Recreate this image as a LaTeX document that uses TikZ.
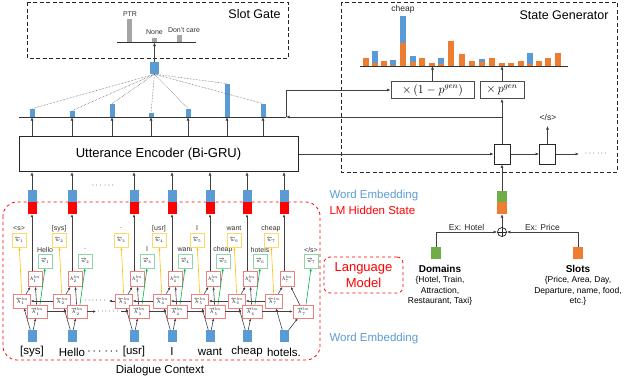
\documentclass[tikz,border=0pt]{standalone}
\usepackage{fontspec}
\setmainfont{Liberation Sans}
\usetikzlibrary{arrows.meta}
\definecolor{wblue}{HTML}{5B9BD5}
\definecolor{gorange}{HTML}{ED7D31}
\definecolor{dgreen}{HTML}{70AD47}
\definecolor{gbar}{HTML}{A5A5A5}
\definecolor{cellred}{HTML}{EE7F7F}
\definecolor{cellyel}{HTML}{FFD966}
\definecolor{cellgrn}{HTML}{8ED6A8}
\definecolor{arryel}{HTML}{FFC000}
\definecolor{arrgrn}{HTML}{00B050}
\newcommand{\cellm}[1]{\scalebox{0.65}{$#1$}}
\begin{document}
\begin{tikzpicture}[
  x=1pt, y=-1pt,
  font=\fontsize{11.5}{13}\selectfont,
  arrow/.style={->, >={Latex[length=3.5pt, width=3pt]}, draw=black!75, line width=0.7pt},
  lmarrow/.style={arrow, >={Latex[length=2.8pt, width=2.5pt]}, line width=0.6pt},
  vec/.style={inner sep=0pt, minimum width=9pt, minimum height=12pt},
  attbar/.style={fill=wblue, inner sep=0pt, minimum width=5pt, anchor=south},
  cell/.style={draw=cellred, fill=white, line width=0.7pt, inner sep=0pt, minimum width=14pt, minimum height=14pt, font=\fontsize{8}{8}\selectfont},
  bwcell/.style={cell, draw=cellyel},
  fwcell/.style={cell, draw=cellgrn},
  celltag/.style={font=\fontsize{7}{7}\selectfont, text=black!80, inner sep=0pt},
  smalltag/.style={font=\fontsize{8.5}{9}\selectfont, text=black!85, inner sep=1pt},
  gate/.style={draw=black!85, dash pattern=on 4pt off 2.5pt, line width=1pt},
  dec/.style={draw=black!85, line width=0.8pt, fill=white, minimum width=16pt, minimum height=20pt, inner sep=0pt},
  mult/.style={draw=black!70, line width=0.7pt, minimum height=17pt, inner sep=0pt, font=\fontsize{12}{12}\selectfont},
  axis/.style={draw=black!80, line width=1pt},
  title/.style={font=\fontsize{12.5}{13}\selectfont}
]
\useasboundingbox (0,0) rectangle (624,378);

\draw[gate] (27,2) rectangle (288,58);
\node[title] at (254.5,14) {Slot Gate};
\draw[axis] (117,42.5) -- (196,42.5);
\fill[gbar] (127,42) rectangle (132,19);
\fill[gbar] (152,42) rectangle (157,38);
\fill[gbar] (177,42) rectangle (182,35);
\node[celltag] at (130,14) {PTR};
\node[celltag] at (154.5,32) {None};
\node[celltag] at (184,30) {Don't care};
\coordinate (sgbase) at (154.5,42.5);
\node[vec, fill=wblue] (gq) at (154.5,68) {};
\draw[arrow] (gq.north) -- (sgbase);

\coordinate (attL) at (19,117);
\coordinate (attR) at (286,117);
\draw[axis] (attL) -- (attR);
\node[attbar, minimum height=8pt] (a1) at (32,117) {};
\node[attbar, minimum height=6pt] (a2) at (72,117) {};
\node[attbar, minimum height=13pt] (a3) at (112,117) {};
\node[attbar, minimum height=4pt] (a4) at (151,117) {};
\node[attbar, minimum height=8pt] (a5) at (188,117) {};
\node[attbar, minimum height=33pt] (a6) at (227,117) {};
\node[attbar, minimum height=13pt] (a7) at (263,117) {};
\foreach \k in {1,...,7}
  \draw[densely dotted, black!70, line width=0.5pt] (gq.south) -- (a\k.north);

\node[draw=black!85, line width=1pt, minimum width=279pt, minimum height=35pt, inner sep=0pt, font=\fontsize{13}{13}\selectfont] (enc) at (158.5,154) {Utterance Encoder (Bi-GRU)};
\foreach \k in {1,...,7}
  \draw[arrow] (a\k.south |- enc.north) -- (a\k.south);

\draw[red, dashed, line width=0.8pt, rounded corners=14pt] (3,202) rectangle (320,360);
\node at (103,186) {\fontsize{8}{8}\selectfont$\cdots$ $\cdots$};
\node at (103,352) {$\cdots$ $\cdots$};
\node at (160,371) {Dialogue Context};

\foreach \i/\c/\w/\bl/\gl/\s in {1/32/{[sys]}/{<s>}/Hello/0, 2/72/Hello/{[sys]}/./0, 3/134/{[usr]}/./I/0, 4/172/I/{[usr]}/want/0, 5/210/want/I/cheap/0, 6/247/cheap/want/hotels/0, 7/284/hotels./cheap/{</s>}/14}{
  \node[vec, fill=red] (lmh\i) at (\c,208) {};
  \node[vec, fill=wblue] (we\i) at (\c,196) {};
  \node[vec, fill=wblue] (emb\i) at (\c,336) {};
  \node at (\c,352) {\w};
  \node[bwcell] (bw\i) at (\c-13,240) {\cellm{\overleftarrow{w}_{\i}}};
  \node[celltag] at (\c-13,228.5) {\bl};
  \node[fwcell] (fw\i) at (\c+13+\s,261) {\cellm{\overrightarrow{w}_{\i}}};
  \node[celltag] at (\c+13+\s,249.5) {\gl};
  \node[cell, minimum height=15pt] (h\i) at (\c+3,279) {\cellm{h^{lm}_{\i}}};
  \node[cell, minimum width=17pt] (bh\i) at (\c-10,301) {\cellm{\overleftarrow{h}^{lm}_{\i}}};
  \node[cell, minimum width=20pt, minimum height=13pt] (fh\i) at (\c+5+\s,311.5) {\cellm{\overrightarrow{h}^{lm}_{\i}}};
  \draw[arrow] (we\i.north) -- (we\i.north |- enc.south);
  \draw[lmarrow] (h\i.north -| lmh\i) -- (lmh\i.south);
  \draw[lmarrow] (emb\i) -- (bh\i);
  \draw[lmarrow] (emb\i) -- (fh\i);
  \draw[lmarrow] (bh\i) -- (h\i);
  \draw[lmarrow] (fh\i) -- (h\i);
  \draw[lmarrow, arryel] (bh\i) -- (bw\i);
  \draw[lmarrow, arrgrn] ([xshift=3pt]fh\i.north) -- (fw\i.south);
}
\foreach \i/\j in {1/2, 3/4, 4/5, 5/6, 6/7}{
  \draw[lmarrow] (fh\i) -- (fh\j);
  \draw[lmarrow] (bh\j) -- (bh\i);
}
\coordinate (fgap) at (96,311.5);
\coordinate (fgapb) at (121,311.5);
\coordinate (bgap) at (109,301);
\draw[lmarrow] (fh2) -- (fgap);
\node at (108,311.5) {\fontsize{8}{8}\selectfont$\cdots\cdots$};
\draw[lmarrow] (fgapb) -- (fh3);
\draw[lmarrow] (bh3) -- (bgap);
\node at (95,301) {\fontsize{8}{8}\selectfont$\cdots\cdots$};

\node[anchor=west, text=wblue] at (326,196) {Word Embedding};
\node[anchor=west, text=red] at (326,210) {LM Hidden State};
\node[anchor=west, text=wblue] at (326,339) {Word Embedding};
\node[draw=red, dashed, rounded corners=6pt, line width=0.8pt, minimum width=79pt, minimum height=36pt, text=red, align=center, font=\fontsize{13}{16}\selectfont] (lmbox) at (363.5,275) {Language\\Model};

\draw[gate] (341,2) rectangle (617,172);
\node[title] at (564,15) {State Generator};
\node[smalltag] at (403,9) {cheap};
\foreach \x/\o/\t in {366/8/8, 375/3/15, 384/5/5, 393/1.5/6, 403/23/50, 413/4/10, 422/8/8, 432/3/3, 441/2/8, 451/25/25, 462/12/12, 472/5/5, 482/4/7, 492/8/8, 502/3/3, 511/3/3, 521/5/5, 530/2/13, 539/5/5, 548/8/8, 558/13/13}{
  \fill[wblue] (\x-3,66) rectangle (\x+3,66-\t);
  \fill[gorange] (\x-3,66) rectangle (\x+3,66-\o);
}
\coordinate (genL) at (360,66);
\coordinate (genR) at (568,66);
\draw[axis] (genL) -- (genR);
\node[mult, minimum width=83pt] (m1) at (432.5,90) {$\times\,(1-p^{gen})$};
\node[mult, minimum width=44pt] (m2) at (502,90) {$\times\,p^{gen}$};
\draw[arrow] (m1.north) -- (m1.north |- genL);
\draw[arrow] (m2.north) -- (m2.north |- genL);

\node[dec] (d1) at (502,154) {};
\node[dec] (d2) at (547.5,154) {};
\coordinate (dout) at (547.5,126);
\coordinate (dend) at (579,154);
\node[smalltag] at (548,117) {</s>};
\node at (596,154) {\fontsize{8}{8}\selectfont$\cdots$ $\cdots$};
\coordinate (br) at (502,117);
\draw[arrow] (enc.east |- d1) -- (d1);
\draw[arrow] (d1) -- (d2);
\draw[arrow] (d2) -- (dend);
\draw[arrow] (d2) -- (dout);
\draw[arrow] (d1) -- (m2);
\draw[arrow] (br) -- (attR);
\draw[arrow] (attR) |- (m1.west);

\node[vec, fill=gorange, minimum width=10pt] (co) at (502,208) {};
\node[vec, fill=dgreen, minimum width=10pt, minimum height=11pt] (cg) at (502,196.5) {};
\draw[arrow] (cg) -- (d1);
\node[circle, draw=black!85, line width=0.7pt, minimum size=9pt, inner sep=0pt] (plus) at (502,232) {};
\draw[black!85, line width=0.7pt] (plus.north) -- (plus.south) (plus.west) -- (plus.east);
\draw[arrow] (plus) -- (co);
\node[vec, fill=dgreen, minimum width=10pt] (dom) at (436,253) {};
\node[vec, fill=gorange, minimum width=10pt] (slt) at (578,253) {};
\draw[arrow] (dom) |- node[pos=0.75, above, smalltag] {Ex: Hotel} (plus);
\draw[arrow] (slt) |- node[pos=0.75, above, smalltag] {Ex: Price} (plus);
\node[font=\fontsize{10}{11}\selectfont\bfseries] at (440,269) {Domains};
\node[align=center, font=\fontsize{8.5}{10.5}\selectfont] at (440,291) {\{Hotel, Train,\\Attraction,\\Restaurant, Taxi\}};
\node[font=\fontsize{10}{11}\selectfont\bfseries] at (578,269) {Slots};
\node[align=center, font=\fontsize{8.5}{10.5}\selectfont] at (578,291) {\{Price, Area, Day,\\Departure, name, food,\\etc.\}};
\end{tikzpicture}
\end{document}
